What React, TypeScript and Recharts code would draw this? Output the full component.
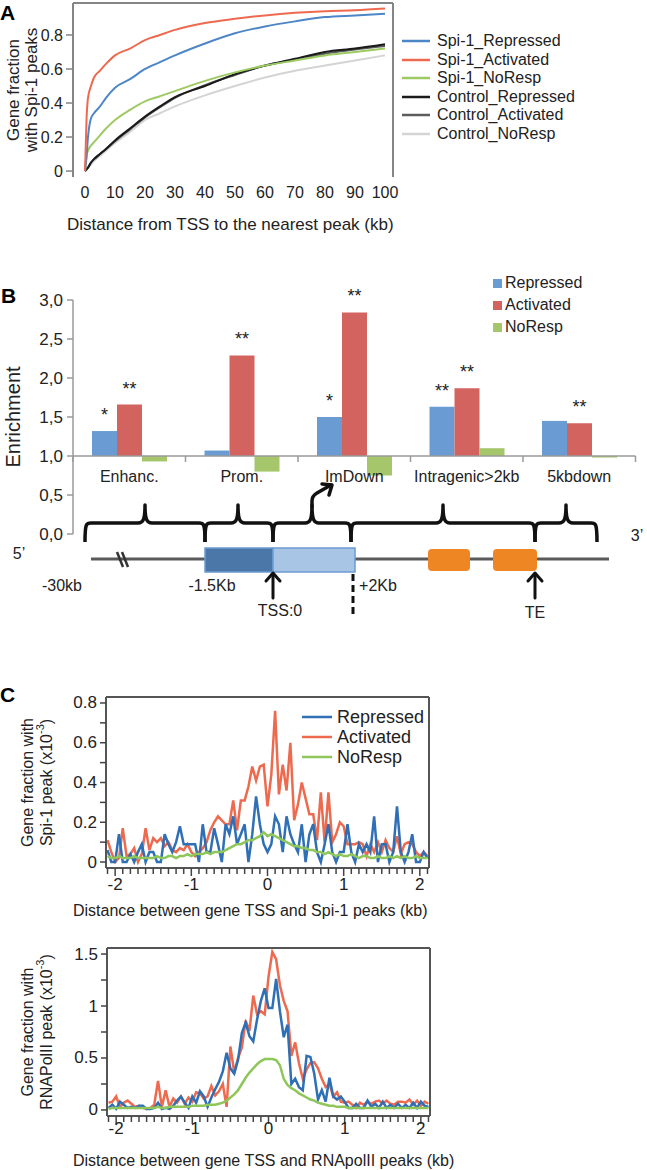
import React from "react";
import {
  LineChart,
  Line,
  BarChart,
  Bar,
  XAxis,
  YAxis,
  ReferenceLine,
  Legend,
  LabelList,
} from "recharts";

const FONT = "'Liberation Sans', Arial, Helvetica, sans-serif";
const INK = "#222";

// ---------- A: fraction of genes with a peak within a distance ----------
const distanceA = [0, 0.5, 1, 2, 3, 5, 7, 10, 15, 20, 25, 30, 40, 50, 60, 70, 80, 90, 100];
const spi1Repressed = [0, 0.08, 0.2, 0.31, 0.34, 0.38, 0.43, 0.49, 0.54, 0.6, 0.64, 0.68, 0.75, 0.81, 0.85, 0.88, 0.905, 0.915, 0.925];
const spi1Activated = [0, 0.3, 0.43, 0.5, 0.55, 0.59, 0.63, 0.68, 0.72, 0.77, 0.8, 0.83, 0.87, 0.895, 0.915, 0.93, 0.94, 0.945, 0.955];
const spi1NoResp = [0, 0.09, 0.12, 0.15, 0.17, 0.21, 0.25, 0.3, 0.36, 0.41, 0.44, 0.47, 0.53, 0.58, 0.62, 0.65, 0.68, 0.7, 0.72];
const controlRepressed = [0, 0.01, 0.02, 0.05, 0.07, 0.1, 0.13, 0.18, 0.25, 0.32, 0.38, 0.435, 0.5, 0.57, 0.62, 0.66, 0.7, 0.72, 0.745];
const controlActivated = [0, 0.01, 0.02, 0.05, 0.07, 0.1, 0.13, 0.175, 0.245, 0.315, 0.375, 0.43, 0.505, 0.565, 0.62, 0.655, 0.69, 0.715, 0.735];
const controlNoResp = [0, 0.01, 0.02, 0.04, 0.06, 0.09, 0.12, 0.165, 0.23, 0.3, 0.34, 0.38, 0.445, 0.5, 0.55, 0.59, 0.62, 0.65, 0.68];
const xTicksA = [0, 10, 20, 30, 40, 50, 60, 70, 80, 90, 100];
const yTicksA = [0, 0.2, 0.4, 0.6, 0.8];

const seriesA = [
  { name: "Spi-1_Repressed", values: spi1Repressed, color: "#4d86c6" },
  { name: "Spi-1_Activated", values: spi1Activated, color: "#ee6a4f" },
  { name: "Spi-1_NoResp", values: spi1NoResp, color: "#9dca62" },
  { name: "Control_Repressed", values: controlRepressed, color: "#1a1a1a" },
  { name: "Control_Activated", values: controlActivated, color: "#5c5c5c" },
  { name: "Control_NoResp", values: controlNoResp, color: "#d4d4d4" },
];
const drawOrderA = [5, 4, 3, 2, 0, 1];

const dataA = distanceA.map((d, i) => {
  const row: Record<string, number> = { d };
  seriesA.forEach((s) => (row[s.name] = s.values[i]));
  return row;
});

// ---------- B: enrichment per region ----------
const regions = ["Enhanc.", "Prom.", "ImDown", "Intragenic>2kb", "5kbdown"];
const enrichRepressed = [1.32, 1.07, 1.5, 1.63, 1.45];
const enrichActivated = [1.66, 2.29, 2.84, 1.87, 1.42];
const enrichNoResp = [0.93, 0.8, 0.75, 1.1, 0.98];
const starsRepressed = ["*", "", "*", "**", ""];
const starsActivated = ["**", "**", "**", "**", "**"];
const yTicksB = [0, 0.5, 1, 1.5, 2, 2.5, 3];

const seriesB = [
  { name: "Repressed", key: "rep", color: "#6a9bd2", stars: starsRepressed },
  { name: "Activated", key: "act", color: "#d3635f", stars: starsActivated },
  { name: "NoResp", key: "no", color: "#a6c66b", stars: [] as string[] },
];

const dataB = regions.map((region, i) => ({
  region,
  rep: enrichRepressed[i],
  act: enrichActivated[i],
  no: enrichNoResp[i],
}));

// ---------- C: peak distribution around the TSS ----------
const distanceC = [
  -2.1, -2.05, -2, -1.95, -1.9, -1.85, -1.8, -1.75, -1.7, -1.65,
  -1.6, -1.55, -1.5, -1.45, -1.4, -1.35, -1.3, -1.25, -1.2, -1.15,
  -1.1, -1.05, -1, -0.95, -0.9, -0.85, -0.8, -0.75, -0.7, -0.65,
  -0.6, -0.55, -0.5, -0.45, -0.4, -0.35, -0.3, -0.25, -0.2, -0.15,
  -0.1, -0.05, 0, 0.05, 0.1, 0.15, 0.2, 0.25, 0.3, 0.35,
  0.4, 0.45, 0.5, 0.55, 0.6, 0.65, 0.7, 0.75, 0.8, 0.85,
  0.9, 0.95, 1, 1.05, 1.1, 1.15, 1.2, 1.25, 1.3, 1.35,
  1.4, 1.45, 1.5, 1.55, 1.6, 1.65, 1.7, 1.75, 1.8, 1.85,
  1.9, 1.95, 2, 2.05, 2.1,
];
const spiActivated = [
  0.11, 0.05, 0.0, 0.02, 0.17, 0.03, 0.04, 0.07, 0.0, 0.04,
  0.17, 0.06, 0.12, 0.1, 0.12, 0.08, 0.1, 0.06, 0.05, 0.07,
  0.06, 0.09, 0.05, 0.03, 0.05, 0.07, 0.1, 0.16, 0.2, 0.23,
  0.21, 0.19, 0.19, 0.31, 0.16, 0.31, 0.31, 0.38, 0.48, 0.41,
  0.48, 0.49, 0.28, 0.44, 0.76, 0.34, 0.49, 0.36, 0.6, 0.21,
  0.29, 0.4, 0.32, 0.24, 0.24, 0.11, 0.35, 0.1, 0.35, 0.1,
  0.14, 0.2, 0.18, 0.09, 0.09, 0.09, 0.1, 0.09, 0.03, 0.09,
  0.05, 0.1, 0.05, 0.11, 0.07, 0.05, 0.13, 0.04, 0.09, 0.1,
  0.09, 0.05, 0.03, 0.05, 0.03,
];
const spiRepressed = [
  0.06, 0.0, 0.0, 0.14, 0.0, 0.0, 0.04, 0.0, 0.05, 0.09,
  0.0, 0.05, 0.05, 0.0, 0.0, 0.14, 0.09, 0.05, 0.1, 0.18,
  0.09, 0.09, 0.09, 0.09, 0.0, 0.19, 0.05, 0.05, 0.17, 0.09,
  0.0, 0.19, 0.14, 0.23, 0.09, 0.14, 0.19, 0.0, 0.14, 0.33,
  0.19, 0.09, 0.05, 0.09, 0.23, 0.19, 0.05, 0.23, 0.14, 0.09,
  0.05, 0.19, 0.0, 0.14, 0.19, 0.05, 0.0, 0.09, 0.19, 0.05,
  0.0, 0.05, 0.05, 0.19, 0.05, 0.0, 0.09, 0.05, 0.09, 0.05,
  0.23, 0.0, 0.09, 0.09, 0.0, 0.05, 0.28, 0.05, 0.0, 0.05,
  0.14, 0.0, 0.0, 0.05, 0.02,
];
const spiNoResp = [
  0.03, 0.02, 0.02, 0.03, 0.02, 0.02, 0.02, 0.03, 0.02, 0.02,
  0.02, 0.02, 0.02, 0.03, 0.02, 0.02, 0.03, 0.03, 0.02, 0.03,
  0.03, 0.04, 0.03, 0.04, 0.04, 0.04, 0.05, 0.04, 0.05, 0.05,
  0.05, 0.06, 0.07, 0.08, 0.09, 0.09, 0.1, 0.11, 0.11, 0.12,
  0.13, 0.15, 0.13, 0.14, 0.13, 0.12, 0.11, 0.1, 0.09, 0.08,
  0.08, 0.07, 0.07, 0.06, 0.06, 0.05, 0.05, 0.04, 0.05, 0.04,
  0.03, 0.04, 0.03, 0.03, 0.04, 0.03, 0.02, 0.03, 0.03, 0.02,
  0.02, 0.03, 0.02, 0.02, 0.03, 0.02, 0.03, 0.02, 0.03, 0.02,
  0.02, 0.03, 0.02, 0.02, 0.02,
];
const polActivated = [
  0.07, 0.08, 0.13, 0.03, 0.07, 0.09, 0.06, 0.03, 0.04, 0.02,
  0.01, 0.02, 0.05, 0.28, 0.03, 0.19, 0.03, 0.11, 0.07, 0.13,
  0.06, 0.12, 0.08, 0.17, 0.16, 0.11, 0.13, 0.23, 0.14, 0.18,
  0.25, 0.03, 0.61, 0.36, 0.5, 0.6, 0.86, 0.76, 1.1, 0.92,
  0.95, 0.92, 1.28, 1.52, 1.45, 1.2, 1.05, 0.95, 0.52, 0.65,
  0.45, 0.3, 0.39, 0.45, 0.46, 0.4, 0.3, 0.22, 0.25, 0.13,
  0.17, 0.08, 0.07, 0.08, 0.05, 0.02, 0.07, 0.05, 0.08, 0.06,
  0.08, 0.09, 0.06, 0.09, 0.06, 0.05, 0.08, 0.08, 0.07, 0.1,
  0.05, 0.09, 0.04, 0.08, 0.06,
];
const polRepressed = [
  0.02, 0.05, 0.01, 0.08, 0.05, 0.02, 0.03, 0.02, 0.04, 0.04,
  0.01, 0.01, 0.02, 0.07, 0.01, 0.02, 0.01, 0.04, 0.09, 0.13,
  0.07, 0.02, 0.13, 0.07, 0.18, 0.13, 0.03, 0.12, 0.2, 0.27,
  0.37, 0.55, 0.4, 0.35, 0.48, 0.74, 0.84, 0.71, 0.66, 0.87,
  1.05, 1.17, 0.98, 0.98, 1.26, 0.95, 0.7, 0.82, 0.25, 0.3,
  0.22, 0.19, 0.52, 0.51, 0.35, 0.1, 0.19, 0.08, 0.31, 0.13,
  0.1, 0.13, 0.08, 0.02, 0.02, 0.06, 0.02, 0.02, 0.09, 0.03,
  0.06, 0.02, 0.08, 0.02, 0.05, 0.02, 0.06, 0.02, 0.05, 0.02,
  0.07, 0.02, 0.08, 0.04, 0.03,
];
const polNoResp = [
  0.01, 0.02, 0.02, 0.02, 0.02, 0.02, 0.02, 0.02, 0.02, 0.02,
  0.02, 0.02, 0.02, 0.03, 0.02, 0.02, 0.03, 0.03, 0.03, 0.03,
  0.03, 0.03, 0.04, 0.04, 0.04, 0.04, 0.05, 0.05, 0.05, 0.06,
  0.07, 0.09, 0.12, 0.15, 0.19, 0.25, 0.31, 0.36, 0.4, 0.44,
  0.47, 0.49, 0.49, 0.49, 0.48, 0.43, 0.3, 0.24, 0.21, 0.19,
  0.16, 0.14, 0.12, 0.1, 0.09, 0.07, 0.06, 0.05, 0.04, 0.04,
  0.03, 0.03, 0.03, 0.02, 0.02, 0.02, 0.02, 0.02, 0.02, 0.02,
  0.02, 0.02, 0.02, 0.02, 0.02, 0.02, 0.02, 0.02, 0.02, 0.02,
  0.02, 0.02, 0.02, 0.02, 0.02,
];
const xLabelsC = [-2, -1, 0, 1, 2];
const yTicksSpi = [0, 0.1, 0.2, 0.3, 0.4, 0.5, 0.6, 0.7, 0.8];
const yLabelsSpi = [0, 0.2, 0.4, 0.6, 0.8];
const yTicksPol = [0, 0.25, 0.5, 0.75, 1, 1.25, 1.5];
const yLabelsPol = [0, 0.5, 1, 1.5];

const seriesC = [
  { name: "Repressed", key: "rep", color: "#2f6fb6" },
  { name: "Activated", key: "act", color: "#ee6a4f" },
  { name: "NoResp", key: "no", color: "#8fc65a" },
];
const drawOrderC = [1, 0, 2];

const dataSpi = distanceC.map((d, i) => ({ d, rep: spiRepressed[i], act: spiActivated[i], no: spiNoResp[i] }));
const dataPol = distanceC.map((d, i) => ({ d, rep: polRepressed[i], act: polActivated[i], no: polNoResp[i] }));

// minor ticks every 0.1 kb along the C axes
const xTicksC: number[] = [];
for (let i = -21; i <= 21; i++) xTicksC.push(i / 10);

// ---------- shared helpers ----------
const StackedTitle = (props: any) => {
  const { viewBox, lines, lineXs, size } = props;
  const cy = viewBox.y + viewBox.height / 2;
  return (
    <g>
      {lines.map((ln: React.ReactNode, i: number) => (
        <text
          key={i}
          transform={`translate(${lineXs[i]},${cy}) rotate(-90)`}
          textAnchor="middle"
          dominantBaseline="central"
          fontSize={size}
          fill={INK}
        >
          {ln}
        </text>
      ))}
    </g>
  );
};

const XTitle = (props: any) => {
  const { viewBox, text, startX, lift, size } = props;
  return (
    <text x={startX} y={viewBox.y + viewBox.height - lift} fontSize={size} fill={INK}>
      {text}
    </text>
  );
};

const sup3 = (lead: string) => (
  <>
    <tspan>{lead} (x10</tspan>
    <tspan dy={-6} fontSize={11}>-3</tspan>
    <tspan dy={6}>)</tspan>
  </>
);

// ---------- panel A ----------
const LegendA = () => (
  <div style={{ fontSize: 16, color: INK }}>
    {seriesA.map((s) => (
      <div key={s.name} style={{ display: "flex", alignItems: "center", height: 18.6 }}>
        <svg width={37} height={10}>
          <line x1={2} x2={30} y1={5} y2={5} stroke={s.color} strokeWidth={2.5} />
        </svg>
        <span>{s.name}</span>
      </div>
    ))}
  </div>
);

const PanelA = () => (
  <LineChart width={647} height={242} data={dataA} margin={{ top: 3, right: 254, bottom: 0, left: 0 }}>
    <XAxis
      dataKey="d"
      type="number"
      domain={[-4, 102.67]}
      allowDataOverflow
      ticks={xTicksA}
      interval={0}
      axisLine={false}
      tickLine={false}
      tickSize={0}
      tickMargin={10}
      height={65}
      tick={{ fontSize: 16, fill: INK }}
      label={<XTitle text="Distance from TSS to the nearest peak (kb)" startX={67} lift={12} size={17} />}
    />
    <YAxis
      type="number"
      domain={[-0.035, 0.988]}
      allowDataOverflow
      ticks={yTicksA}
      interval={0}
      width={73}
      axisLine={{ stroke: "#858585", strokeWidth: 2 }}
      tickLine={{ stroke: "#858585", strokeWidth: 1.5 }}
      tickSize={7}
      tickMargin={3}
      tick={{ fontSize: 16, fill: INK }}
      tickFormatter={(v: number) => (v === 0 ? "0" : v.toFixed(1))}
      label={<StackedTitle lines={["Gene fraction", "with Spi-1 peaks"]} lineXs={[13, 31]} size={17} />}
    />
    <ReferenceLine y={0.988} stroke="#858585" strokeWidth={2} />
    <ReferenceLine x={102.67} stroke="#858585" strokeWidth={2} />
    {drawOrderA.map((i) => (
      <Line
        key={seriesA[i].name}
        type="monotone"
        dataKey={seriesA[i].name}
        stroke={seriesA[i].color}
        strokeWidth={2}
        dot={false}
        activeDot={false}
        isAnimationActive={false}
      />
    ))}
    <Legend
      layout="vertical"
      align="center"
      verticalAlign="middle"
      wrapperStyle={{ left: 400, top: 31.7, width: 240 }}
      content={() => <LegendA />}
    />
  </LineChart>
);

// ---------- panel B ----------
const B_TOP = 30;
const B_PLOT_H = 234;
const B_PLOT_W = 647 - 73 - 11.5;
const B_BAND = B_PLOT_W / regions.length;

const RegionTick = (props: any) => {
  const { x, y, payload, index } = props;
  const yOne = y - B_PLOT_H / 3; // value 1.0 on a 0..3 axis
  return (
    <g>
      <text x={x} y={yOne + 20} textAnchor="middle" dominantBaseline="central" fontSize={16} fill={INK}>
        {payload.value}
      </text>
      {index === 0 && <line x1={x - B_BAND / 2} x2={x - B_BAND / 2} y1={yOne} y2={yOne + 6} stroke="#9a9a9a" strokeWidth={1.5} />}
      <line x1={x + B_BAND / 2} x2={x + B_BAND / 2} y1={yOne} y2={yOne + 6} stroke="#9a9a9a" strokeWidth={1.5} />
    </g>
  );
};

const starLabel = (marks: string[]) => (props: any) => {
  const { x, y, width, index } = props;
  const m = marks[index];
  if (!m) return null;
  return (
    <text x={Number(x) + Number(width) / 2} y={Number(y) - 10} textAnchor="middle" fontSize={18} fill={INK}>
      {m}
    </text>
  );
};

const LegendB = () => (
  <div style={{ fontSize: 16, color: INK }}>
    {seriesB.map((s) => (
      <div key={s.name} style={{ display: "flex", alignItems: "center", height: 22 }}>
        <span style={{ display: "inline-block", width: 9, height: 9, background: s.color, marginRight: 3 }} />
        <span>{s.name}</span>
      </div>
    ))}
  </div>
);

const PanelB = () => (
  <BarChart
    width={647}
    height={280}
    data={dataB}
    margin={{ top: B_TOP, right: 11.5, bottom: 0, left: 0 }}
    barCategoryGap={19}
    barGap={0}
  >
    <XAxis dataKey="region" height={16} axisLine={false} tickLine={false} tickSize={0} tickMargin={0} interval={0} tick={<RegionTick />} />
    <YAxis
      type="number"
      domain={[0, 3]}
      allowDataOverflow
      ticks={yTicksB}
      interval={0}
      width={73}
      axisLine={{ stroke: "#9a9a9a", strokeWidth: 1.5 }}
      tickLine={{ stroke: "#9a9a9a", strokeWidth: 1.5 }}
      tickSize={6}
      tickMargin={4}
      tick={{ fontSize: 17, fill: INK }}
      tickFormatter={(v: number) => v.toFixed(1).replace(".", ",")}
      label={<StackedTitle lines={["Enrichment"]} lineXs={[13]} size={20} />}
    />
    <ReferenceLine y={1} stroke="#9a9a9a" strokeWidth={1.5} />
    {seriesB.map((s) => (
      <Bar
        key={s.key}
        name={s.name}
        dataKey={(row: any) => [Math.min(1, row[s.key]), Math.max(1, row[s.key])]}
        fill={s.color}
        isAnimationActive={false}
      >
        <LabelList content={starLabel(s.stars)} />
      </Bar>
    ))}
    <Legend
      layout="vertical"
      align="center"
      verticalAlign="middle"
      wrapperStyle={{ left: 493, top: 2, width: 140 }}
      content={() => <LegendB />}
    />
  </BarChart>
);

// ---------- panel C ----------
const makeXTickC = (gap: number) => (props: any) => {
  const { x, y, payload } = props;
  const v = payload.value;
  const major = xLabelsC.some((m) => Math.abs(m - v) < 1e-6);
  return (
    <g>
      <line x1={x} x2={x} y1={y} y2={y + (major ? 8 : 6)} stroke="#444" strokeWidth={1.5} />
      {major && (
        <text x={x} y={y + gap} textAnchor="middle" dominantBaseline="central" fontSize={17} fill={INK}>
          {v}
        </text>
      )}
    </g>
  );
};

const makeYTickC = (labels: number[]) => (props: any) => {
  const { x, y, payload } = props;
  const v = payload.value;
  const major = labels.some((m) => Math.abs(m - v) < 1e-6);
  return (
    <g>
      <line x1={x} x2={x - 6} y1={y} y2={y} stroke="#444" strokeWidth={1.5} />
      {major && (
        <text x={x - 9} y={y} textAnchor="end" dominantBaseline="central" fontSize={17} fill={INK}>
          {v}
        </text>
      )}
    </g>
  );
};

const LegendC = () => (
  <div style={{ fontSize: 18, color: INK }}>
    {seriesC.map((s) => (
      <div key={s.name} style={{ display: "flex", alignItems: "center", height: 20 }}>
        <svg width={37} height={10}>
          <line x1={2} x2={32} y1={5} y2={5} stroke={s.color} strokeWidth={2.5} />
        </svg>
        <span>{s.name}</span>
      </div>
    ))}
  </div>
);

type ProfileProps = {
  data: any[];
  height: number;
  marginTop: number;
  xAxisHeight: number;
  yAxisWidth: number;
  yDomain: [number, number];
  yTicks: number[];
  yLabels: number[];
  labelGap: number;
  xTitle: string;
  xTitleLift: number;
  yTitle: React.ReactNode[];
  withLegend: boolean;
};

const ProfileChart = (p: ProfileProps) => (
  <LineChart
    width={647}
    height={p.height}
    data={p.data}
    margin={{ top: p.marginTop, right: 647 - p.yAxisWidth - 323, bottom: 0, left: 0 }}
  >
    <XAxis
      dataKey="d"
      type="number"
      domain={[-2.12, 2.12]}
      allowDataOverflow
      ticks={xTicksC}
      interval={0}
      height={p.xAxisHeight}
      axisLine={{ stroke: "#555", strokeWidth: 2 }}
      tickLine={false}
      tickSize={0}
      tickMargin={0}
      tick={makeXTickC(p.labelGap)}
      label={<XTitle text={p.xTitle} startX={73} lift={p.xTitleLift} size={16} />}
    />
    <YAxis
      type="number"
      domain={p.yDomain}
      allowDataOverflow
      ticks={p.yTicks}
      interval={0}
      width={p.yAxisWidth}
      axisLine={{ stroke: "#555", strokeWidth: 2 }}
      tickLine={false}
      tickSize={0}
      tickMargin={0}
      tick={makeYTickC(p.yLabels)}
      label={<StackedTitle lines={p.yTitle} lineXs={[27, 46]} size={16} />}
    />
    <ReferenceLine y={p.yDomain[1]} stroke="#555" strokeWidth={2} />
    <ReferenceLine x={2.12} stroke="#555" strokeWidth={2} />
    {drawOrderC.map((i) => (
      <Line
        key={seriesC[i].key}
        name={seriesC[i].name}
        type="linear"
        dataKey={seriesC[i].key}
        stroke={seriesC[i].color}
        strokeWidth={2.5}
        dot={false}
        activeDot={false}
        isAnimationActive={false}
      />
    ))}
    {p.withLegend && (
      <Legend
        layout="vertical"
        align="center"
        verticalAlign="middle"
        wrapperStyle={{ left: 300, top: 27, width: 160 }}
        content={() => <LegendC />}
      />
    )}
  </LineChart>
);

// ---------- gene model drawn under panel B ----------
const braces = [
  { from: 85, to: 205, tip: 145 },
  { from: 205, to: 273, tip: 238 },
  { from: 273, to: 351, tip: 312 },
  { from: 351, to: 535, tip: 443 },
  { from: 535, to: 597, tip: 566 },
];

const GeneModel = () => {
  const yTip = 505;
  const yMid = 523;
  const yEnd = 542;
  const geneY = 559;
  const brace = (a: number, b: number, t: number) =>
    `M${a},${yEnd} C${a},${yMid - 3} ${a + 2},${yMid} ${a + 9},${yMid} L${t - 7},${yMid} ` +
    `C${t - 2},${yMid} ${t},${yMid - 3} ${t},${yTip} C${t},${yMid - 3} ${t + 2},${yMid} ${t + 7},${yMid} ` +
    `L${b - 9},${yMid} C${b - 2},${yMid} ${b},${yMid - 3} ${b},${yEnd}`;
  const upArrow = (x: number) => (
    <g stroke="#111" strokeWidth={3} fill="none" strokeLinecap="round" strokeLinejoin="round">
      <line x1={x} x2={x} y1={598} y2={575} />
      <polyline points={`${x - 7},${581} ${x},${573} ${x + 7},${581}`} />
    </g>
  );
  return (
    <svg
      width={647}
      height={1170}
      style={{ position: "absolute", left: 0, top: 0, pointerEvents: "none" }}
      fontFamily={FONT}
    >
      <text x={0} y={20} fontSize={21} fontWeight="bold" fill="#000">A</text>
      <text x={1} y={303} fontSize={21} fontWeight="bold" fill="#000">B</text>
      <text x={0} y={702} fontSize={21} fontWeight="bold" fill="#000">C</text>

      {braces.map((b) => (
        <path key={b.from} d={brace(b.from, b.to, b.tip)} stroke="#111" strokeWidth={3.5} fill="none" strokeLinejoin="round" />
      ))}
      {/* transcription start arrow */}
      <g stroke="#111" strokeWidth={3.5} fill="none" strokeLinecap="round" strokeLinejoin="round">
        <path d="M312,507 L312,501 Q312,496 317,493 L331,485" />
        <polyline points="322,484 332,485 329,495" />
      </g>

      <line x1={91} x2={609} y1={geneY} y2={geneY} stroke="#5a5a5a" strokeWidth={3} />
      <line x1={117} x2={123} y1={552} y2={567} stroke="#333" strokeWidth={2.5} />
      <line x1={122} x2={128} y1={552} y2={567} stroke="#333" strokeWidth={2.5} />
      <rect x={205} y={548} width={68} height={24} fill="#4a76a8" stroke="#6c9bd2" strokeWidth={1.5} />
      <rect x={273} y={548} width={82} height={24} fill="#a8c5e6" stroke="#6c9bd2" strokeWidth={1.5} />
      <rect x={428} y={549} width={42} height={22} rx={4} fill="#ee8623" />
      <rect x={493} y={549} width={44} height={22} rx={4} fill="#ee8623" />

      {upArrow(273)}
      {upArrow(535)}
      <line x1={353} x2={353} y1={574} y2={616} stroke="#111" strokeWidth={3} strokeDasharray="7 4" />

      <g fontSize={16} fill={INK} textAnchor="middle" dominantBaseline="central">
        <text x={19} y={553}>5’</text>
        <text x={637} y={535}>3’</text>
        <text x={62} y={585}>-30kb</text>
        <text x={212} y={585}>-1.5Kb</text>
        <text x={378} y={585}>+2Kb</text>
        <text x={280} y={610}>TSS:0</text>
        <text x={535} y={612}>TE</text>
      </g>
    </svg>
  );
};

export default function App() {
  return (
    <div
      style={{
        position: "absolute",
        left: 0,
        top: 0,
        width: 647,
        height: 1170,
        background: "#fff",
        fontFamily: FONT,
        color: INK,
        overflow: "hidden",
      }}
    >
      <div style={{ position: "absolute", left: 0, top: 0 }}>
        <PanelA />
      </div>
      <div style={{ position: "absolute", left: 0, top: 270 }}>
        <PanelB />
      </div>
      <div style={{ position: "absolute", left: 0, top: 680 }}>
        <ProfileChart
          data={dataSpi}
          height={250}
          marginTop={17}
          xAxisHeight={62}
          yAxisWidth={106}
          yDomain={[-0.03, 0.83]}
          yTicks={yTicksSpi}
          yLabels={yLabelsSpi}
          labelGap={16}
          xTitle="Distance between gene TSS and Spi-1 peaks (kb)"
          xTitleLift={14.5}
          yTitle={["Gene fraction with", sup3("Spi-1 peak")]}
          withLegend
        />
      </div>
      <div style={{ position: "absolute", left: 0, top: 930 }}>
        <ProfileChart
          data={dataPol}
          height={240}
          marginTop={18}
          xAxisHeight={54}
          yAxisWidth={107}
          yDomain={[-0.058, 1.558]}
          yTicks={yTicksPol}
          yLabels={yLabelsPol}
          labelGap={12}
          xTitle="Distance between gene TSS and RNApolII peaks (kb)"
          xTitleLift={4.5}
          yTitle={["Gene fraction with", sup3("RNAPolII peak")]}
          withLegend={false}
        />
      </div>
      <GeneModel />
    </div>
  );
}
